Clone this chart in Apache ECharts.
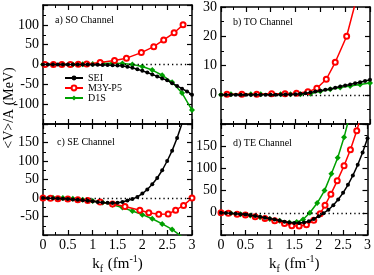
<!DOCTYPE html>
<html><head><meta charset="utf-8">
<script src="https://cdn.jsdelivr.net/npm/echarts@6/dist/echarts.min.js"></script>
<style>html,body{margin:0;padding:0;background:#fff}#c{width:374px;height:275px}</style>
</head><body><div id="c"></div>
<script>
// ---- data ----
var kfSEI = [0,0.1,0.2,0.3,0.4,0.5,0.6,0.7,0.8,0.9,1.0,1.1,1.2,1.3,1.4,1.5,1.6,1.7,1.8,1.9,2.0,2.1,2.2,2.3,2.4,2.5,2.6,2.7,2.8,2.9,3.0];
var seiSO = [0,0,0,0,0,0,0,0,-0.2,-0.3,-0.5,-0.7,-1,-1.4,-2,-2.5,-3.5,-5.5,-8.5,-12,-16,-20,-25,-30,-35,-40,-47,-54,-61,-68,-76];
var seiTO = [0,0,0,0,0,0,0,0,0,0,0,0,0.1,0.1,0.1,0.2,0.3,0.5,0.8,1.1,1.4,1.7,2.0,2.4,2.8,3.2,3.5,3.9,4.3,4.7,5.1];
var seiSE = [0,-0.5,-1,-1.5,-2,-3,-4,-5,-6,-7.5,-9,-10.5,-12,-13,-13.5,-13,-11,-7,-3,3,12,23,37,54,75,100,128,162,202,248,300];
var seiTE = [0,-0.3,-1,-2,-3,-4,-5.5,-7,-9,-11,-13,-15,-17.5,-20,-22,-23,-23,-22,-19,-14,-8,-1,7,17,30,45,63,84,108,136,168];

var m3yKfSO = [0.04,0.21,0.38,0.55,0.71,0.88,1.15,1.44,1.68,1.98,2.23,2.43,2.64,2.82];
var m3ySO   = [0,0,0,0,0.5,1,5,10,16,30,45,62,80,100];
var m3yKfTO = [0.12,0.42,0.72,1.02,1.29,1.52,1.75,1.93,2.12,2.3,2.53,2.73,2.93];
var m3yTO   = [0.2,0.2,0.2,0.3,0.3,0.5,1.0,2.2,5.3,11.1,20,33,50];
var m3yKfSE = [0,0.15,0.3,0.5,0.7,0.9,1.15,1.4,1.65,1.95,2.13,2.33,2.52,2.67,2.83,3.0];
var m3ySE   = [0,-1,-2,-3,-5,-7,-11,-16,-23,-33,-40,-44,-43,-33,-20,0];
var m3yKfTE = [0,0.15,0.33,0.5,0.7,0.9,1.1,1.3,1.45,1.6,1.75,1.9,2.03,2.13,2.25,2.38,2.52,2.65,2.78,2.9];
var m3yTE   = [0,-1,-3,-5,-9,-13,-18,-24,-29,-30,-27,-17,-2,17,42,72,106,142,185,230];

var d1sKf   = [0,0.2,0.4,0.6,0.8,1.0,1.2,1.4,1.6,1.8,2.0,2.2,2.4,2.6,2.8,3.0];
var d1sSO   = [0,0,0,0.3,0.8,1.5,2.5,3,2.5,0,-5,-14,-27,-45,-72,-115];
var d1sTO   = [0,0.2,0.2,0.2,0.2,0.2,0.2,0.2,0.2,0.3,1.2,1.9,2.5,3.0,3.5,4.0];
var d1sSE   = [0,1,0,-2,-5,-8,-12,-18,-26,-35,-45,-56,-70,-85,-105,-130];
var d1sKfTE = [0,0.2,0.4,0.6,0.8,1.0,1.2,1.4,1.55,1.68,1.82,1.97,2.12,2.26,2.39,2.52,2.65];
var d1sTE   = [0,-1,-3,-6,-10,-14,-18,-22,-21,-15,0,22,50,88,124,170,225];

var xTicks = ['0','0.5','1','1.5','2','2.5','3'];
var panelTitles = ['a) SO Channel','b) TO Channel','c) SE Channel','d) TE Channel'];
var yRanges = [[-150,150,50],[-10,30,10],[-100,200,50],[-50,200,50]];
var seriesNames = ['SEI','M3Y-P5','D1S'];
var yName = '<V>/A (MeV)';

// ---- build ----
function pairs(xs, ys){ return xs.map(function(x,i){ return [x, ys[i]]; }); }
var FONT = 'Liberation Serif';
var grids = [
  {left:43, top:5, width:149, height:119},
  {left:221, top:5, width:149, height:119},
  {left:43, top:124, width:149, height:112},
  {left:221, top:124, width:149, height:112}
];
var axLine = {show:true, onZero:false, lineStyle:{color:'#000', width:1.5}};
var xAxes = [], yAxes = [];
grids.forEach(function(g, gi){
  var bottomLabels = gi >= 2;
  ['bottom','top'].forEach(function(pos){
    var a = {type:'value', gridIndex:gi, position:pos, min:0, max:3, interval:0.5,
      axisLine:axLine,
      axisTick:{show:true, inside:true, length:5, lineStyle:{color:'#000', width:1.2}},
      minorTick:{show:true, splitNumber:2, length:3, lineStyle:{color:'#000', width:1}},
      splitLine:{show:false},
      axisLabel:{show: bottomLabels && pos==='bottom', color:'#000', fontFamily:FONT, fontSize:14, margin:3,
        formatter:function(v){ var i = Math.round(v/0.5); return xTicks[i] !== undefined ? xTicks[i] : ''; }}
    };
    if (bottomLabels && pos==='bottom') {
      a.name = '{a|k}{s|f}{a| (fm}{p|-1}{a|)}';
      a.nameLocation = 'middle';
      a.nameGap = 19;
      a.nameTextStyle = {rich:{
        a:{fontFamily:FONT, fontSize:15, color:'#000', lineHeight:20, verticalAlign:'middle'},
        s:{fontFamily:FONT, fontSize:10, color:'#000', lineHeight:20, verticalAlign:'bottom', padding:[0,1,0,0]},
        p:{fontFamily:FONT, fontSize:10, color:'#000', lineHeight:20, verticalAlign:'top'}
      }};
    }
    xAxes.push(a);
  });
  var r = yRanges[gi];
  ['left','right'].forEach(function(pos){
    yAxes.push({type:'value', gridIndex:gi, position:pos, min:r[0], max:r[1], interval:r[2],
      axisLine:axLine,
      axisTick:{show:true, inside:true, length:5, lineStyle:{color:'#000', width:1.2}},
      minorTick:{show:true, splitNumber:2, length:3, lineStyle:{color:'#000', width:1}},
      splitLine:{show:false},
      axisLabel:{show: pos==='left', color:'#000', fontFamily:FONT, fontSize:14, margin:4,
        showMinLabel: false, showMaxLabel: gi===1}
    });
  });
});

var COLORS = {SEI:'#000000', 'M3Y-P5':'#ff0000', D1S:'#00a000'};
var seiData = [seiSO, seiTO, seiSE, seiTE];
var m3yData = [pairs(m3yKfSO,m3ySO), pairs(m3yKfTO,m3yTO), pairs(m3yKfSE,m3ySE), pairs(m3yKfTE,m3yTE)];
var d1sData = [pairs(d1sKf,d1sSO), pairs(d1sKf,d1sTO), pairs(d1sKf,d1sSE), pairs(d1sKfTE,d1sTE)];
var series = [];
for (var gi=0; gi<4; gi++){
  series.push({name:'D1S', type:'line', xAxisIndex:gi*2, yAxisIndex:gi*2, data:d1sData[gi],
    symbol:'diamond', symbolSize:6, showAllSymbol:true, clip:true, z:3,
    lineStyle:{color:COLORS.D1S, width:1.5}, itemStyle:{color:COLORS.D1S}});
  series.push({name:'M3Y-P5', type:'line', xAxisIndex:gi*2, yAxisIndex:gi*2, data:m3yData[gi],
    symbol:'emptyCircle', symbolSize:5, showAllSymbol:true, clip:true, z:4,
    lineStyle:{color:COLORS['M3Y-P5'], width:1.5}, itemStyle:{color:COLORS['M3Y-P5'], borderWidth:1.2}});
  series.push({name:'SEI', type:'line', xAxisIndex:gi*2, yAxisIndex:gi*2, data:pairs(kfSEI, seiData[gi]),
    symbol:'circle', symbolSize:4, showAllSymbol:true, clip:true, z:5,
    lineStyle:{color:COLORS.SEI, width:1.5}, itemStyle:{color:COLORS.SEI},
    markLine:{silent:true, symbol:['none','none'], label:{show:false}, animation:false,
      lineStyle:{color:'#000', width:1.3, type:[1.3,3]}, data:[{yAxis:0}]}});
}

var titlePos = [[55,20],[233,22],[57,142],[233,143]];
var graphics = panelTitles.map(function(t,i){
  return {type:'text', x:titlePos[i][0], y:titlePos[i][1], z:10,
    style:{text:t, fill:'#000', font:'10px "Liberation Serif"', textAlign:'left', textVerticalAlign:'middle'}};
});
graphics.push({type:'text', x:9, y:108, rotation:Math.PI/2, z:10,
  style:{text:yName, fill:'#000', font:'14px "Liberation Serif"', textAlign:'center', textVerticalAlign:'middle'}});

var chart = echarts.init(document.getElementById('c'), null, {renderer:'canvas'});
chart.setOption({
  animation:false,
  backgroundColor:'#fff',
  grid:grids,
  xAxis:xAxes,
  yAxis:yAxes,
  legend:{data:seriesNames, orient:'vertical', left:59, top:68, itemWidth:18, itemHeight:6, itemGap:0,
    textStyle:{fontFamily:FONT, fontSize:10, color:'#000', lineHeight:10}, selectedMode:false},
  series:series,
  graphic:graphics
});
</script></body></html>
